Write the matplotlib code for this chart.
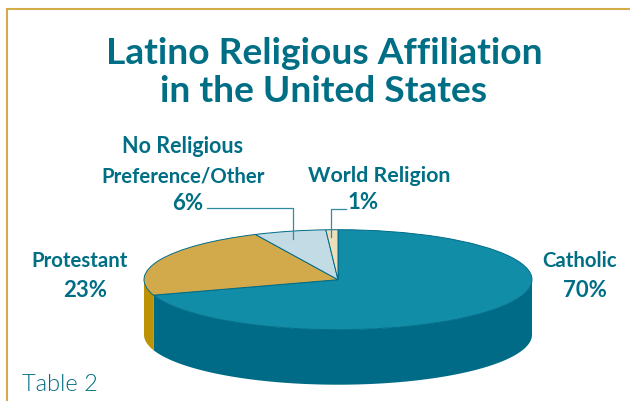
import numpy as np
import matplotlib
matplotlib.use("Agg")
import matplotlib.pyplot as plt
from matplotlib.patches import Polygon

categories = ["Catholic", "Protestant", "No Religious\nPreference/Other", "World Religion"]
values = [70, 23, 6, 1]
top_colors = ["#128DA8", "#D2AA4B", "#C3DBE5", "#EDDFBC"]
side_colors = ["#006B87", "#BC9305", "#A9C6D2", "#D8C89A"]
TEXT = "#006E85"
GOLD = "#D4AC4A"
W, H = 630, 402
CX, CY, RX, RY, DEPTH = 338, 280.7, 194, 50, 55

fig = plt.figure(figsize=(W/100, H/100), dpi=100, facecolor="white")
bg = fig.add_axes([0, 0, 1, 1])
bg.set_xlim(0, W); bg.set_ylim(H, 0); bg.axis("off")

# frame
bg.plot([7.3, 7.3, W], [H, 9.8, 9.8], color=GOLD, lw=1.5, solid_joinstyle="miter")

# pie axes stretched to the ellipse
ax = fig.add_axes([(CX-RX)/W, 1-(CY+RY)/H, 2*RX/W, 2*RY/H], zorder=2)
wedges, _ = ax.pie(values, colors=top_colors, startangle=90, counterclock=False, radius=1,
                   wedgeprops=dict(edgecolor="#006B87", linewidth=0.7))
ax.set_aspect("auto")
ax.set_xlim(-1, 1); ax.set_ylim(-1, 1); ax.axis("off")
for w in wedges:
    w.set_clip_on(False)

# extruded side from the same slice angles
depth_u = DEPTH / RY
fractions = np.cumsum([0] + values) / sum(values)
for i, col in enumerate(side_colors):
    a1 = 90 - 360*fractions[i]
    a0 = 90 - 360*fractions[i+1]
    for lo, hi in [(a0, a1), (a0+360, a1+360), (a0-360, a1-360)]:
        lo2, hi2 = max(lo, 180), min(hi, 360)
        if hi2 > lo2:
            t = np.radians(np.linspace(lo2, hi2, 200))
            x, y = np.cos(t), np.sin(t)
            pts = np.r_[np.c_[x, y], np.c_[x[::-1], y[::-1]-depth_u]]
            ax.add_patch(Polygon(pts, closed=True, facecolor=col, edgecolor="none",
                                 zorder=0, clip_on=False))

# leader lines
bg.plot([207, 293, 293], [209, 209, 240], color="#2F8CA3", lw=0.9, zorder=5)
bg.plot([346, 330.5, 330.5], [210, 210, 238], color="#2F8CA3", lw=0.9, zorder=5)
bg.set_zorder(3)
bg.patch.set_alpha(0)

FONT = "Lato"
def label(x, y, s, size=14.7, weight="bold", ha="center", **kw):
    bg.text(x, y, s, color=TEXT, fontsize=size, fontweight=weight, family=FONT,
            ha=ha, va="baseline", **kw)

label(324, 64, "Latino Religious Affiliation", size=26.7)
label(324, 102, "in the United States", size=26.7)
label(183, 153, "No Religious", size=15.5)
label(183, 183, "Preference/Other")
label(188, 210, "6%", size=16)
label(379, 182, "World Religion", size=15.4)
label(363, 209, "1%", size=16)
label(80, 267, "Protestant")
label(85, 297, "23%", size=16)
label(580, 267, "Catholic")
label(585, 297, "70%", size=16)
label(22, 391, "Table 2", size=17, weight=300, ha="left")

fig.savefig("out.png", dpi=100, facecolor="white")
